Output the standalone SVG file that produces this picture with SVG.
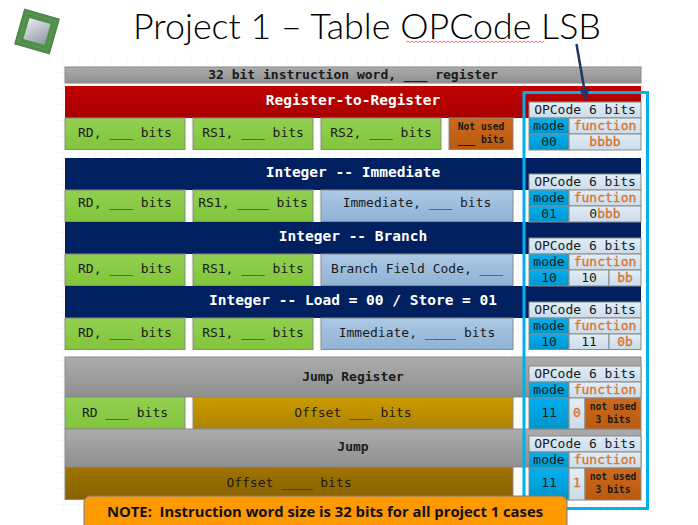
<svg xmlns="http://www.w3.org/2000/svg" width="698" height="525" viewBox="0 0 698 525">
<defs>
<linearGradient id="gGray" x1="0" y1="0" x2="0" y2="1"><stop offset="0" stop-color="#acacac"/><stop offset="1" stop-color="#8f8f8f"/></linearGradient>
<linearGradient id="gRed" x1="0" y1="0" x2="0" y2="1"><stop offset="0" stop-color="#c00000"/><stop offset="1" stop-color="#a80000"/></linearGradient>
<linearGradient id="gGreen" x1="0" y1="0" x2="0" y2="1"><stop offset="0" stop-color="#92d050"/><stop offset="1" stop-color="#82c53c"/></linearGradient>
<linearGradient id="gOrange" x1="0" y1="0" x2="0" y2="1"><stop offset="0" stop-color="#cc6a1c"/><stop offset="1" stop-color="#b95a10"/></linearGradient>
<linearGradient id="gBlue" x1="0" y1="0" x2="0" y2="1"><stop offset="0" stop-color="#adc9e5"/><stop offset="1" stop-color="#8fb2d4"/></linearGradient>
<linearGradient id="gGold" x1="0" y1="0" x2="0" y2="1"><stop offset="0" stop-color="#cc9c00"/><stop offset="1" stop-color="#ad8200"/></linearGradient>
<linearGradient id="gDark" x1="0" y1="0" x2="0" y2="1"><stop offset="0" stop-color="#a07200"/><stop offset="1" stop-color="#866200"/></linearGradient>
<linearGradient id="gCyan" x1="0" y1="0" x2="0" y2="1"><stop offset="0" stop-color="#00b0f0"/><stop offset="1" stop-color="#0094cc"/></linearGradient>
<linearGradient id="gPale" x1="0" y1="0" x2="0" y2="1"><stop offset="0" stop-color="#e2edf6"/><stop offset="1" stop-color="#cbdcea"/></linearGradient>
<linearGradient id="gChip" x1="0" y1="0" x2="1" y2="1"><stop offset="0" stop-color="#e6eaee"/><stop offset="1" stop-color="#8f98a4"/></linearGradient>
<pattern id="grid" width="16" height="16" patternUnits="userSpaceOnUse" x="0" y="9"><path d="M16 0V16M0 16H16" fill="none" stroke="#f2f2f2" stroke-width="1"/></pattern>
<marker id="arrow" markerUnits="userSpaceOnUse" markerWidth="12" markerHeight="10" refX="10" refY="5" orient="auto"><path d="M0 0L11 5L0 10Z" fill="#1f3864"/></marker>
</defs>
<style>
text{font-family:"DejaVu Sans Mono","Liberation Mono",monospace;font-size:13px;text-anchor:middle;fill:#1a1a1a}
.b{font-weight:bold}
.w{font-weight:bold;fill:#fff;font-size:14.5px}
.box{stroke:#8a8a8a;stroke-width:1}
.gray{fill:url(#gGray)}.red{fill:url(#gRed);stroke:none}.green{fill:url(#gGreen)}.orange{fill:url(#gOrange)}
.blue{fill:url(#gBlue)}.gold{fill:url(#gGold)}.dark{fill:url(#gDark)}.cyan{fill:url(#gCyan)}.pale{fill:url(#gPale)}
.navy{fill:#002060;stroke:none}
.fn{fill:#d9752c;stroke:#d9752c;stroke-width:.35}
.s{font-size:9.7px;font-weight:bold}
</style>
<rect width="698" height="525" fill="#fff"/>
<rect x="56" y="57" width="594" height="458" fill="url(#grid)"/>

<g id="chip">
<g transform="rotate(16 37 31.5)">
<rect x="19" y="13.5" width="36" height="36" fill="#4f8f4a" stroke="#44803f" stroke-width="1"/>
<rect x="22" y="16.5" width="30" height="30" fill="none" stroke="#6da060" stroke-width="1" stroke-dasharray="1 1"/>
<rect x="26" y="20.5" width="22" height="22" fill="url(#gChip)"/>
</g>
</g>

<g id="title">
<text x="367" y="39" style="font-family:'Lato','Open Sans',sans-serif;font-weight:300;font-size:35.8px;fill:#000">Project 1 – Table OPCode LSB</text>
<path d="M406 42.5l2 -1.5l2 1.5l2 -1.5l2 1.5l2 -1.5l2 1.5l2 -1.5l2 1.5l2 -1.5l2 1.5l2 -1.5l2 1.5l2 -1.5l2 1.5l2 -1.5l2 1.5l2 -1.5l2 1.5l2 -1.5l2 1.5l2 -1.5l2 1.5l2 -1.5l2 1.5l2 -1.5l2 1.5l2 -1.5l2 1.5l2 -1.5l2 1.5l2 -1.5l2 1.5l2 -1.5l2 1.5l2 -1.5l2 1.5l2 -1.5l2 1.5l2 -1.5l2 1.5l2 -1.5l2 1.5l2 -1.5l2 1.5l2 -1.5l2 1.5l2 -1.5l2 1.5l2 -1.5l2 1.5l2 -1.5l2 1.5l2 -1.5l2 1.5l2 -1.5l2 1.5l2 -1.5l2 1.5l2 -1.5l2 1.5l2 -1.5l2 1.5l2 -1.5l2 1.5l2 -1.5l2 1.5l2 -1.5l2 1.5l2 -1.5" fill="none" stroke="#e05050" stroke-width="0.8"/>
</g>

<g id="word-header">
<rect class="box gray" x="65" y="67" width="576" height="16"/>
<text class="b" x="353" y="79">32 bit instruction word, ___ register</text>
</g>

<g id="reg-to-reg">
<rect class="red" x="65" y="86" width="576" height="32"/>
<text class="w" x="353" y="105">Register-to-Register</text>
<rect class="box green" x="65" y="118" width="120" height="31.5"/><text x="125" y="137">RD, ___ bits</text>
<rect class="box green" x="193" y="118" width="120" height="31.5"/><text x="253" y="137">RS1, ___ bits</text>
<rect class="box green" x="321" y="118" width="120" height="31.5"/><text x="381" y="137">RS2, ___ bits</text>
<rect class="box orange" x="449" y="118" width="64" height="31.5"/>
<text class="s" x="481" y="130">Not used</text><text class="s" x="481" y="143">___ bits</text>
</g>

<g id="int-immediate">
<rect class="navy" x="65" y="158" width="576" height="32"/>
<text class="w" x="353" y="177">Integer -- Immediate</text>
<rect class="box green" x="65" y="190" width="120" height="31.5"/><text x="125" y="207">RD, ___ bits</text>
<rect class="box green" x="193" y="190" width="120" height="31.5"/><text x="253" y="207">RS1, ____ bits</text>
<rect class="box blue" x="321" y="190" width="192" height="31.5"/><text x="417" y="207">Immediate, ___ bits</text>
</g>

<g id="int-branch">
<rect class="navy" x="65" y="222" width="576" height="32"/>
<text class="w" x="353" y="241">Integer -- Branch</text>
<rect class="box green" x="65" y="254" width="120" height="31.5"/><text x="125" y="273">RD, ___ bits</text>
<rect class="box green" x="193" y="254" width="120" height="31.5"/><text x="253" y="273">RS1, ___ bits</text>
<rect class="box blue" x="321" y="254" width="192" height="31.5"/><text x="417" y="273">Branch Field Code, ___</text>
</g>

<g id="int-load-store">
<rect class="navy" x="65" y="286" width="576" height="32"/>
<text class="w" x="353" y="305">Integer -- Load = 00 / Store = 01</text>
<rect class="box green" x="65" y="318" width="120" height="31.5"/><text x="125" y="337">RD, ___ bits</text>
<rect class="box green" x="193" y="318" width="120" height="31.5"/><text x="253" y="337">RS1, ___ bits</text>
<rect class="box blue" x="321" y="318" width="192" height="31.5"/><text x="417" y="337">Immediate, ____ bits</text>
</g>

<g id="jump-register">
<rect class="box gray" x="65" y="357" width="576" height="40"/>
<text class="b" x="353" y="381">Jump Register</text>
<rect class="box green" x="65" y="397" width="120" height="32"/><text x="125" y="417">RD ___ bits</text>
<rect class="box gold" x="193" y="397" width="320" height="32"/><text x="353" y="417">Offset ___ bits</text>
</g>

<g id="jump">
<rect class="box gray" x="65" y="429" width="576" height="38"/>
<text class="b" x="353" y="451">Jump</text>
<rect class="box dark" x="65" y="467" width="448" height="32.5"/><text x="289" y="487">Offset ____ bits</text>
</g>

<g id="opcode-1">
<rect class="box pale" x="529" y="102" width="112" height="16"/><text x="585" y="114">OPCode 6 bits</text>
<rect class="box cyan" x="529" y="118" width="40" height="16"/><text x="549" y="130">mode</text>
<rect class="box pale" x="569" y="118" width="72" height="16"/><text class="fn" x="605" y="130">function</text>
<rect class="box cyan" x="529" y="134" width="40" height="16"/><text x="549" y="146">00</text>
<rect class="box pale" x="569" y="134" width="72" height="16"/><text class="fn" x="605" y="146">bbbb</text>
</g>
<g id="opcode-2">
<rect class="box pale" x="529" y="174" width="112" height="16"/><text x="585" y="186">OPCode 6 bits</text>
<rect class="box cyan" x="529" y="190" width="40" height="16"/><text x="549" y="202">mode</text>
<rect class="box pale" x="569" y="190" width="72" height="16"/><text class="fn" x="605" y="202">function</text>
<rect class="box cyan" x="529" y="206" width="40" height="16"/><text x="549" y="218">01</text>
<rect class="box pale" x="569" y="206" width="72" height="16"/><text x="605" y="218" class="fn"><tspan style="fill:#1a1a1a;stroke:none">0</tspan>bbb</text>
</g>
<g id="opcode-3">
<rect class="box pale" x="529" y="238" width="112" height="16"/><text x="585" y="250">OPCode 6 bits</text>
<rect class="box cyan" x="529" y="254" width="40" height="16"/><text x="549" y="266">mode</text>
<rect class="box pale" x="569" y="254" width="72" height="16"/><text class="fn" x="605" y="266">function</text>
<rect class="box cyan" x="529" y="270" width="40" height="16"/><text x="549" y="282">10</text>
<rect class="box pale" x="569" y="270" width="40" height="16"/><text x="589" y="282">10</text>
<rect class="box pale" x="609" y="270" width="32" height="16"/><text class="fn" x="625" y="282">bb</text>
</g>
<g id="opcode-4">
<rect class="box pale" x="529" y="302" width="112" height="16"/><text x="585" y="314">OPCode 6 bits</text>
<rect class="box cyan" x="529" y="318" width="40" height="16"/><text x="549" y="330">mode</text>
<rect class="box pale" x="569" y="318" width="72" height="16"/><text class="fn" x="605" y="330">function</text>
<rect class="box cyan" x="529" y="334" width="40" height="15.5"/><text x="549" y="346">10</text>
<rect class="box pale" x="569" y="334" width="40" height="15.5"/><text x="589" y="346">11</text>
<rect class="box pale" x="609" y="334" width="32" height="15.5"/><text class="fn" x="625" y="346">0b</text>
</g>
<g id="opcode-5">
<rect class="box pale" x="529" y="366" width="112" height="16"/><text x="585" y="378">OPCode 6 bits</text>
<rect class="box cyan" x="529" y="382" width="40" height="16"/><text x="549" y="394">mode</text>
<rect class="box pale" x="569" y="382" width="72" height="16"/><text class="fn" x="605" y="394">function</text>
<rect class="box cyan" x="529" y="398" width="40" height="31"/><text x="549" y="417">11</text>
<rect class="box pale" x="569" y="398" width="16" height="31"/><text class="fn" x="577" y="417">0</text>
<rect class="box orange" x="585" y="398" width="56" height="31"/>
<text class="s" x="613" y="410">not used</text><text class="s" x="613" y="423">3 bits</text>
</g>
<g id="opcode-6">
<rect class="box pale" x="529" y="436" width="112" height="16"/><text x="585" y="448">OPCode 6 bits</text>
<rect class="box cyan" x="529" y="452" width="40" height="16"/><text x="549" y="464">mode</text>
<rect class="box pale" x="569" y="452" width="72" height="16"/><text class="fn" x="605" y="464">function</text>
<rect class="box cyan" x="529" y="468" width="40" height="32"/><text x="549" y="487">11</text>
<rect class="box pale" x="569" y="468" width="16" height="32"/><text class="fn" x="577" y="487">1</text>
<rect class="box orange" x="585" y="468" width="56" height="32"/>
<text class="s" x="613" y="480">not used</text><text class="s" x="613" y="493">3 bits</text>
</g>

<g id="highlight">
<rect x="524" y="92.5" width="123.5" height="416" fill="none" stroke="#00b0f0" stroke-width="3"/>
</g>

<g id="connectors">
<line x1="576.5" y1="44" x2="586" y2="99" stroke="#1f3864" stroke-width="2.5" marker-end="url(#arrow)"/>
</g>

<g id="note">
<rect x="84" y="496" width="483" height="40" rx="6" fill="#ff9900" stroke="#6f7f90" stroke-width="1"/>
<text x="325" y="517" style="font-family:'Open Sans','Liberation Sans',sans-serif;font-weight:bold;font-size:14.8px;fill:#111">NOTE:&#160; Instruction word size is 32 bits for all project 1 cases</text>
</g>
</svg>
